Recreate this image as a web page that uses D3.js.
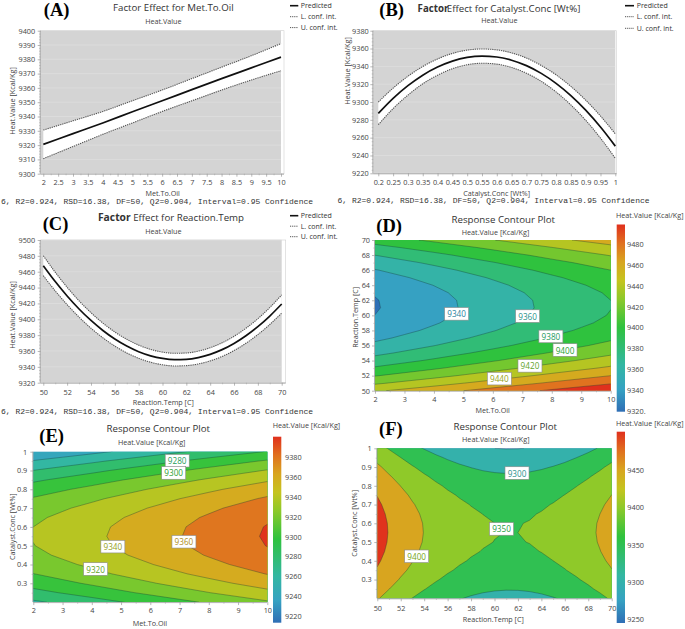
<!DOCTYPE html>
<html><head><meta charset="utf-8">
<script src="https://cdn.jsdelivr.net/npm/d3@7"></script>
<style>body{margin:0;background:#fff}svg{display:block}</style>
</head><body>
<svg id="c" width="685" height="629"></svg>
<script>
// ---------------- DATA ----------------
const metToOil  = [2,3,4,5,6,7,8,9,10];
const metPred   = [9320.5,9328.0,9335.5,9343.3,9351.0,9358.8,9366.5,9374.0,9381.5];
const metUpper  = [9330.5,9337.0,9343.5,9351.0,9358.5,9366.5,9374.5,9382.5,9391.0];
const metLower  = [9310.5,9319.0,9327.5,9335.5,9343.5,9351.0,9358.5,9365.5,9372.0];

const catConc   = [0.2,0.25,0.3,0.35,0.4,0.45,0.5,0.55,0.6,0.65,0.7,0.75,0.8,0.85,0.9,0.95,1.0];
const catPred   = [9287.2,9304.1,9318.3,9330.1,9339.2,9345.9,9350.0,9351.5,9350.5,9346.9,9340.8,9332.1,9320.9,9307.1,9290.8,9271.9,9250.5];
const catUpper  = [9299.9,9315.6,9328.9,9339.8,9348.3,9354.5,9358.2,9359.5,9358.5,9355.1,9349.3,9341.0,9330.5,9317.5,9302.1,9284.3,9264.2];
const catLower  = [9274.5,9292.6,9307.7,9320.4,9330.1,9337.3,9341.8,9343.5,9342.5,9338.7,9332.3,9323.2,9311.3,9296.7,9279.5,9259.5,9236.8];

const reactTemp = [50,51,52,53,54,55,56,57,58,59,60,61,62,63,64,65,66,67,68,69,70];
const tempPred  = [9467.6,9447.6,9429.4,9413.0,9398.5,9385.9,9375.1,9366.2,9359.1,9353.9,9350.6,9349.1,9349.5,9351.7,9355.8,9361.7,9369.5,9379.2,9390.7,9404.1,9419.3];
const tempUpper = [9480.2,9459.4,9440.4,9423.3,9408.3,9395.2,9384.0,9374.8,9367.4,9362.0,9358.6,9357.1,9357.5,9359.8,9364.1,9370.3,9378.5,9388.7,9400.7,9414.8,9430.8];
const tempLower = [9455.0,9435.8,9418.4,9402.7,9388.7,9376.6,9366.2,9357.6,9350.8,9345.8,9342.6,9341.1,9341.5,9343.6,9347.5,9353.1,9360.5,9369.7,9380.7,9393.4,9407.8];

// predicted value at the design centre (Met.To.Oil 6, Catalyst 0.6, Temp 60)
const centerPred = 9351.0;

// tick labels
const tickA_x = [2,2.5,3,3.5,4,4.5,5,5.5,6,6.5,7,7.5,8,8.5,9,9.5,10];
const tickA_y = [9300,9310,9320,9330,9340,9350,9360,9370,9380,9390,9400];
const tickB_x = [0.2,0.25,0.3,0.35,0.4,0.45,0.5,0.55,0.6,0.65,0.7,0.75,0.8,0.85,0.9,0.95,1];
const tickB_y = [9220,9240,9260,9280,9300,9320,9340,9360,9380];
const tickC_x = [50,52,54,56,58,60,62,64,66,68,70];
const tickC_y = [9320,9340,9360,9380,9400,9420,9440,9460,9480,9500];
const tickD_x = [2,3,4,5,6,7,8,9,10];
const tickD_y = [50,52,54,56,58,60,62,64,66,68,70];
const tickE_x = [2,3,4,5,6,7,8,9,10];
const tickE_y = [0.3,0.4,0.5,0.6,0.7,0.8,0.9,1];
const tickF_x = [50,52,54,56,58,60,62,64,66,68,70];
const tickF_y = [0.3,0.4,0.5,0.6,0.7,0.8,0.9,1];

// contour levels
const levelsD = [9320,9340,9360,9380,9400,9420,9440,9460,9480];
const levelsE = [9220,9240,9260,9280,9300,9320,9340,9360,9380];
const levelsF = [9250,9300,9350,9400,9450];

// colour-bar ticks
const cbTicksD = [9320,9340,9360,9380,9400,9420,9440,9460,9480];
const cbLabelsD = ["9320.","9340","9360","9380","9400","9420","9440","9460","9480"];
const cbTicksE = [9220,9240,9260,9280,9300,9320,9340,9360,9380];
const cbTicksF = [9250,9300,9350,9400,9450];

// contour label annotations (data coordinates)
const labelsD = [{v:9340,x:4.77,y:60.2},{v:9360,x:7.18,y:59.9},{v:9380,x:7.97,y:57.2},{v:9400,x:8.45,y:55.4},{v:9420,x:7.26,y:53.3},{v:9440,x:6.22,y:51.6}];
const labelsE = [{v:9280,x:6.92,y:0.952},{v:9300,x:6.8,y:0.887},{v:9340,x:4.72,y:0.495},{v:9360,x:7.15,y:0.521},{v:9320,x:4.13,y:0.376}];
const labelsF = [{v:9300,x:61.92,y:0.868},{v:9350,x:60.6,y:0.57},{v:9400,x:53.36,y:0.424}];

const footer = "6, R2=0.924, RSD=16.38, DF=50, Q2=0.904, Interval=0.95 Confidence";

// ---------------- DRAWING ----------------
const FONT = "'Open Sans','Noto Sans',sans-serif";
const MONO = "'Liberation Mono','DejaVu Sans Mono',monospace";
const SERIF = "'Liberation Serif','DejaVu Serif',serif";
const svg = d3.select("#c");
const defs = svg.append("defs");
defs.append("clipPath").attr("id","clipLeft").append("rect").attr("x",0).attr("y",0).attr("width",340).attr("height",629);

const rampStops = [0,0.12,0.25,0.45,0.6,0.7,0.8,0.9,1];
const rampCols = ["#2f6eb5","#36a2c2","#33b7a2","#2fc23e","#8cc92a","#c5c41f","#d8a51f","#e0701f","#e0301d"];
const ramp = d3.scaleLinear().domain(rampStops).range(rampCols).clamp(true);

function txt(g, x, y, s, o = {}) {
  const t = g.append("text").attr("x", x).attr("y", y)
    .attr("font-size", o.size || 7.2).attr("fill", o.fill || "#333")
    .attr("text-anchor", o.anchor || "middle").attr("dominant-baseline", "central")
    .attr("font-family", o.family || FONT).text(s);
  if (o.weight) t.attr("font-weight", o.weight);
  if (o.rotate) t.attr("transform", `rotate(-90,${x},${y})`);
  return t;
}

function styleAxis(a) {
  a.attr("font-size", 7.3).attr("font-family", FONT);
  a.select(".domain").attr("stroke", "#9a9a9a").attr("stroke-width", 0.8);
  a.selectAll(".tick line").attr("stroke", "#9a9a9a").attr("stroke-width", 0.7);
  a.selectAll(".tick text").attr("fill", "#444");
}
function minorAxis(g, axis, vals, transform) {
  const m = g.append("g").attr("transform", transform).call(axis.tickValues(vals).tickSize(1.6).tickFormat(""));
  m.select(".domain").remove();
  m.selectAll(".tick line").attr("stroke", "#a5a5a5").attr("stroke-width", 0.6);
}

function axes(g, x, y, p) {
  const ax = g.append("g").attr("transform", `translate(0,${p.bottom})`)
    .call(d3.axisBottom(x).tickValues(p.xTicks).tickSize(3).tickPadding(p.xPad).tickFormat(d => String(d)));
  ax.select(".domain").attr("d", `M${p.left},0.5H${p.right}`);
  styleAxis(ax);
  const ay = g.append("g").attr("transform", `translate(${p.left},0)`)
    .call(d3.axisLeft(y).tickValues(p.yTicks).tickSize(3).tickPadding(p.yPad).tickFormat(d => String(d)));
  ay.select(".domain").attr("d", `M-0.5,${p.top}V${p.bottom}`);
  styleAxis(ay);
  if (p.xMinor) minorAxis(g, d3.axisBottom(x), p.xMinor, `translate(0,${p.bottom})`);
  if (p.yMinor) minorAxis(g, d3.axisLeft(y), p.yMinor, `translate(${p.left},0)`);
}

function linePlot(p) {
  const g = svg.append("g");
  if (p.clip) g.attr("clip-path", "url(#clipLeft)");
  const x = d3.scaleLinear().domain(p.xDom).range(p.xRng);
  const y = d3.scaleLinear().domain(p.yDom).range([p.bottom, p.top]);
  const xEnd = x(p.xDom[1]);
  g.append("rect").attr("x", p.left).attr("y", p.top).attr("width", p.right - p.left).attr("height", p.bottom - p.top)
    .attr("fill", "#fff").attr("stroke", "#d0d0d0").attr("stroke-width", 0.6);
  g.append("rect").attr("x", p.left).attr("y", p.top).attr("width", xEnd - p.left).attr("height", p.bottom - p.top).attr("fill", "#d4d4d4");
  g.selectAll(null).data(p.yTicks).join("line")
    .attr("x1", p.left).attr("x2", xEnd).attr("y1", d => y(d)).attr("y2", d => y(d))
    .attr("stroke", "#e0e0e0").attr("stroke-width", 0.6);
  const idx = d3.range(p.xs.length);
  const area = d3.area().x(i => x(p.xs[i])).y0(i => y(p.lo[i])).y1(i => y(p.hi[i])).curve(d3.curveMonotoneX);
  g.append("path").attr("d", area(idx)).attr("fill", "#fff");
  const ln = arr => d3.line().x(i => x(p.xs[i])).y(i => y(arr[i])).curve(d3.curveMonotoneX)(idx);
  [p.lo, p.hi].forEach(a => g.append("path").attr("d", ln(a)).attr("fill", "none")
    .attr("stroke", "#555").attr("stroke-width", 1.1).attr("stroke-dasharray", "1.3,0.9"));
  g.append("path").attr("d", ln(p.pred)).attr("fill", "none").attr("stroke", "#111").attr("stroke-width", 1.7);
  axes(g, x, y, p);
  // legend
  const L = p.legend;
  const names = ["Predicted", "L. conf. int.", "U. conf. int."];
  names.forEach((n, i) => {
    const ly = L.ys[i];
    const l = g.append("line").attr("x1", L.x0).attr("x2", L.x1).attr("y1", ly).attr("y2", ly);
    if (i === 0) l.attr("stroke", "#111").attr("stroke-width", 1.6);
    else l.attr("stroke", "#555").attr("stroke-width", 1).attr("stroke-dasharray", "1.2,0.9");
    txt(g, L.tx, ly, n, { size: 7, anchor: "start", fill: "#333" });
  });
  return g;
}

function contourPlot(p) {
  const g = svg.append("g");
  const nx = p.xs.length, ny = p.ys.length;
  const gx = d3.scaleLinear().domain([0.5, nx - 0.5]).range([p.left, p.right]);
  const gy = d3.scaleLinear().domain([0.5, ny - 0.5]).range([p.bottom, p.top]);
  const x = d3.scaleLinear().domain([p.xs[0], p.xs[nx - 1]]).range([p.left, p.right]);
  const y = d3.scaleLinear().domain([p.ys[0], p.ys[ny - 1]]).range([p.bottom, p.top]);
  const norm = d3.scaleLinear().domain(p.cDom).range([0, 1]).clamp(true);
  const color = v => ramp(norm(v));
  defs.append("clipPath").attr("id", p.id).append("rect")
    .attr("x", p.left).attr("y", p.top).attr("width", p.right - p.left).attr("height", p.bottom - p.top);
  const plot = g.append("g").attr("clip-path", `url(#${p.id})`);
  plot.append("rect").attr("x", p.left).attr("y", p.top).attr("width", p.right - p.left).attr("height", p.bottom - p.top)
    .attr("fill", color(p.levels[0]));
  const contours = d3.contours().size([nx, ny]).thresholds(p.levels)(p.grid);
  const path = d3.geoPath(d3.geoTransform({ point(px, py) { this.stream.point(gx(px), gy(py)); } }));
  contours.forEach((c, k) => {
    const upper = k + 1 < p.levels.length ? p.levels[k + 1] : p.levels[k] + p.step;
    plot.append("path").attr("d", path(c)).attr("fill", color(upper)).attr("fill-rule", "evenodd");
  });
  contours.forEach(c => plot.append("path").attr("d", path(c)).attr("fill", "none")
    .attr("stroke", "rgba(20,55,55,0.5)").attr("stroke-width", 0.7));
  // labels
  p.labels.forEach(l => {
    const cx = x(l.x), cy = y(l.y);
    g.append("rect").attr("x", cx - 12).attr("y", cy - 6.3).attr("width", 24).attr("height", 12.6)
      .attr("fill", "#fff").attr("stroke", "#8a8a8a").attr("stroke-width", 0.6);
    txt(g, cx, cy, String(l.v), { size: 8.2, fill: d3.color(color(l.v)).darker(0.55).formatHex() });
  });
  axes(g, x, y, p);
  // colour bar
  const cb = p.cb;
  const cy = d3.scaleLinear().domain(p.cDom).range([cb.bottom, cb.top]);
  const grad = defs.append("linearGradient").attr("id", p.id + "g").attr("x1", 0).attr("y1", 1).attr("x2", 0).attr("y2", 0);
  rampStops.forEach((s, i) => grad.append("stop").attr("offset", s).attr("stop-color", rampCols[i]));
  g.append("rect").attr("x", cb.x).attr("y", cb.top).attr("width", 8.3).attr("height", cb.bottom - cb.top)
    .attr("fill", `url(#${p.id}g)`);
  cb.ticks.forEach((t, i) => txt(g, cb.labelX, cy(t), cb.labels ? cb.labels[i] : String(t), { size: 7.3, anchor: "start", fill: "#444" }));
  txt(g, cb.titleX, cb.titleY, "Heat.Value [Kcal/Kg]", { size: 7.2, anchor: "start", fill: "#444" });
  return g;
}

// contour grids built from the factor-effect predictions (additive model)
const gridD = [], gridE = [], gridF = [];
reactTemp.forEach((t, j) => metToOil.forEach((m, i) => gridD.push(metPred[i] + tempPred[j] - centerPred)));
catConc.forEach((c, j) => metToOil.forEach((m, i) => gridE.push(metPred[i] + catPred[j] - centerPred)));
catConc.forEach((c, j) => reactTemp.forEach((t, i) => gridF.push(tempPred[i] + catPred[j] - centerPred)));

// ----- Panel A -----
const gA = linePlot({
  clip: true, left: 40.7, right: 284, top: 30.7, bottom: 173.7,
  xDom: [2, 10], xRng: [43.3, 281], yDom: [9300, 9400],
  xs: metToOil, pred: metPred, lo: metLower, hi: metUpper,
  xTicks: tickA_x, yTicks: tickA_y, xPad: 3.2, yPad: 2.5,
  xMinor: d3.range(2.25, 10, 0.5), yMinor: d3.range(9302, 9400, 2).filter(v => v % 10 !== 0),
  legend: { x0: 290, x1: 298.3, tx: 300.7, ys: [5.7, 16.7, 27.6] }
});
// ----- Panel B -----
const gB = linePlot({
  left: 373.3, right: 616.7, top: 30.7, bottom: 173.3,
  xDom: [0.2, 1], xRng: [378.3, 615.3], yDom: [9220, 9380],
  xs: catConc, pred: catPred, lo: catLower, hi: catUpper,
  xTicks: tickB_x, yTicks: tickB_y, xPad: 3.2, yPad: 1.5,
  yMinor: d3.range(9224, 9380, 4).filter(v => v % 20 !== 0),
  legend: { x0: 625, x1: 634, tx: 636.7, ys: [5.7, 16.7, 28.3] }
});
// ----- Panel C -----
const gC = linePlot({
  clip: true, left: 40.7, right: 285.7, top: 240, bottom: 382.7,
  xDom: [50, 70], xRng: [43.3, 281.7], yDom: [9320, 9500],
  xs: reactTemp, pred: tempPred, lo: tempLower, hi: tempUpper,
  xTicks: tickC_x, yTicks: tickC_y, xPad: 4.2, yPad: 2.5,
  xMinor: d3.range(51, 70, 2), yMinor: d3.range(9324, 9500, 4).filter(v => v % 20 !== 0),
  legend: { x0: 290, x1: 298.3, tx: 300.7, ys: [215.7, 226.2, 236.7] }
});
// ----- Panel D -----
const gD = contourPlot({
  id: "cD", left: 375, right: 610.7, top: 240, bottom: 390.7,
  xs: metToOil, ys: reactTemp, grid: gridD, levels: levelsD, step: 20, cDom: [9319, 9499],
  xTicks: tickD_x, yTicks: tickD_y, xPad: 3.5, yPad: 2,
  xMinor: d3.range(2.5, 10, 1), yMinor: d3.range(51, 70, 2),
  labels: labelsD,
  cb: { x: 616.7, top: 224.5, bottom: 411.7, labelX: 627, ticks: cbTicksD, labels: cbLabelsD, titleX: 616, titleY: 215 }
});
// ----- Panel E -----
const gE = contourPlot({
  id: "cE", left: 33.3, right: 267.3, top: 451.7, bottom: 602.1,
  xs: metToOil, ys: catConc, grid: gridE, levels: levelsE, step: 20, cDom: [9213, 9401],
  xTicks: tickE_x, yTicks: tickE_y, xPad: 2.6, yPad: 3,
  xMinor: d3.range(2.5, 10, 1), yMinor: [0.25,0.35,0.45,0.55,0.65,0.75,0.85,0.95],
  labels: labelsE,
  cb: { x: 273, top: 436.7, bottom: 622.7, labelX: 285, ticks: cbTicksE, titleX: 272.7, titleY: 425 }
});
// ----- Panel F -----
const gF = contourPlot({
  id: "cF", left: 377.3, right: 611.7, top: 448.3, bottom: 598.3,
  xs: reactTemp, ys: catConc, grid: gridF, levels: levelsF, step: 50, cDom: [9245, 9501],
  xTicks: tickF_x, yTicks: tickF_y, xPad: 4.2, yPad: 2.6,
  xMinor: d3.range(51, 70, 2), yMinor: [0.25,0.35,0.45,0.55,0.65,0.75,0.85,0.95],
  labels: labelsF,
  cb: { x: 616.7, top: 431.7, bottom: 623, labelX: 627.3, ticks: cbTicksF, titleX: 616, titleY: 423.3 }
});

// ----- texts -----
const T = svg.append("g");
// titles
txt(gA, 173.3, 7.6, "Factor Effect for Met.To.Oil", { size: 9.7, fill: "#333" });
txt(gA, 163.3, 20.7, "Heat.Value", { size: 7.2, fill: "#444" });
const tB = txt(T, 499, 7.6, "", { size: 9.7, fill: "#333" });
tB.append("tspan").attr("font-weight", "bold").text("Factor");
tB.append("tspan").attr("dx", -1.5).text("Effect for Catalyst.Conc [Wt%]");
txt(T, 499.3, 20, "Heat.Value", { size: 7.2, fill: "#444" });
const tC = txt(gC, 171, 217.3, "", { size: 9.7, fill: "#333" });
tC.append("tspan").attr("font-weight", "bold").attr("font-size", 10.3).text("Factor");
tC.append("tspan").text(" Effect for Reaction.Temp");
txt(gC, 163.3, 230.7, "Heat.Value", { size: 7.2, fill: "#444" });
txt(T, 503.3, 219.3, "Response Contour Plot", { size: 9.7, fill: "#333" });
txt(T, 495.5, 231.7, "Heat.Value [Kcal/Kg]", { size: 7.2, fill: "#444" });
txt(T, 158.3, 428.3, "Response Contour Plot", { size: 9.7, fill: "#333" });
txt(T, 151.7, 442.3, "Heat.Value [Kcal/Kg]", { size: 7.2, fill: "#444" });
txt(T, 505.3, 426.7, "Response Contour Plot", { size: 9.7, fill: "#333" });
txt(T, 495.8, 439.3, "Heat.Value [Kcal/Kg]", { size: 7.2, fill: "#444" });
// axis titles
const axT = [
  [162.7, 192.7, "Met.To.Oil", false], [11.7, 101, "Heat.Value [Kcal/Kg]", true],
  [496.7, 192.7, "Catalyst.Conc [Wt%]", false], [346.7, 71, "Heat.Value [Kcal/Kg]", true],
  [163.3, 401.7, "Reaction.Temp [C]", false], [11.7, 315, "Heat.Value [Kcal/Kg]", true],
  [492.7, 410, "Met.To.Oil", false], [355, 317.3, "Reaction.Temp [C]", true],
  [150, 623.3, "Met.To.Oil", false], [11.7, 526.7, "Catalyst.Conc [Wt%]", true],
  [493.3, 619.3, "Reaction.Temp [C]", false], [354, 523.3, "Catalyst.Conc [Wt%]", true]
];
axT.forEach(a => txt(T, a[0], a[1], a[2], { size: 7.2, fill: "#444", rotate: a[3] }));
// footers
txt(T, 1, 201.7, footer, { size: 8, family: MONO, anchor: "start", fill: "#333" });
txt(T, 337.5, 200.7, footer, { size: 8, family: MONO, anchor: "start", fill: "#333" });
txt(T, 1, 411, footer, { size: 8, family: MONO, anchor: "start", fill: "#333" });
// panel letters
[["(A)", 56.7, 10], ["(B)", 391.7, 10.3], ["(C)", 55.5, 224.2], ["(D)", 389.2, 225.5], ["(E)", 51.7, 435.5], ["(F)", 390.8, 429.2]]
  .forEach(l => txt(T, l[1], l[2], l[0], { size: 18.5, family: SERIF, weight: "bold", fill: "#000" }));
</script>
</body></html>
